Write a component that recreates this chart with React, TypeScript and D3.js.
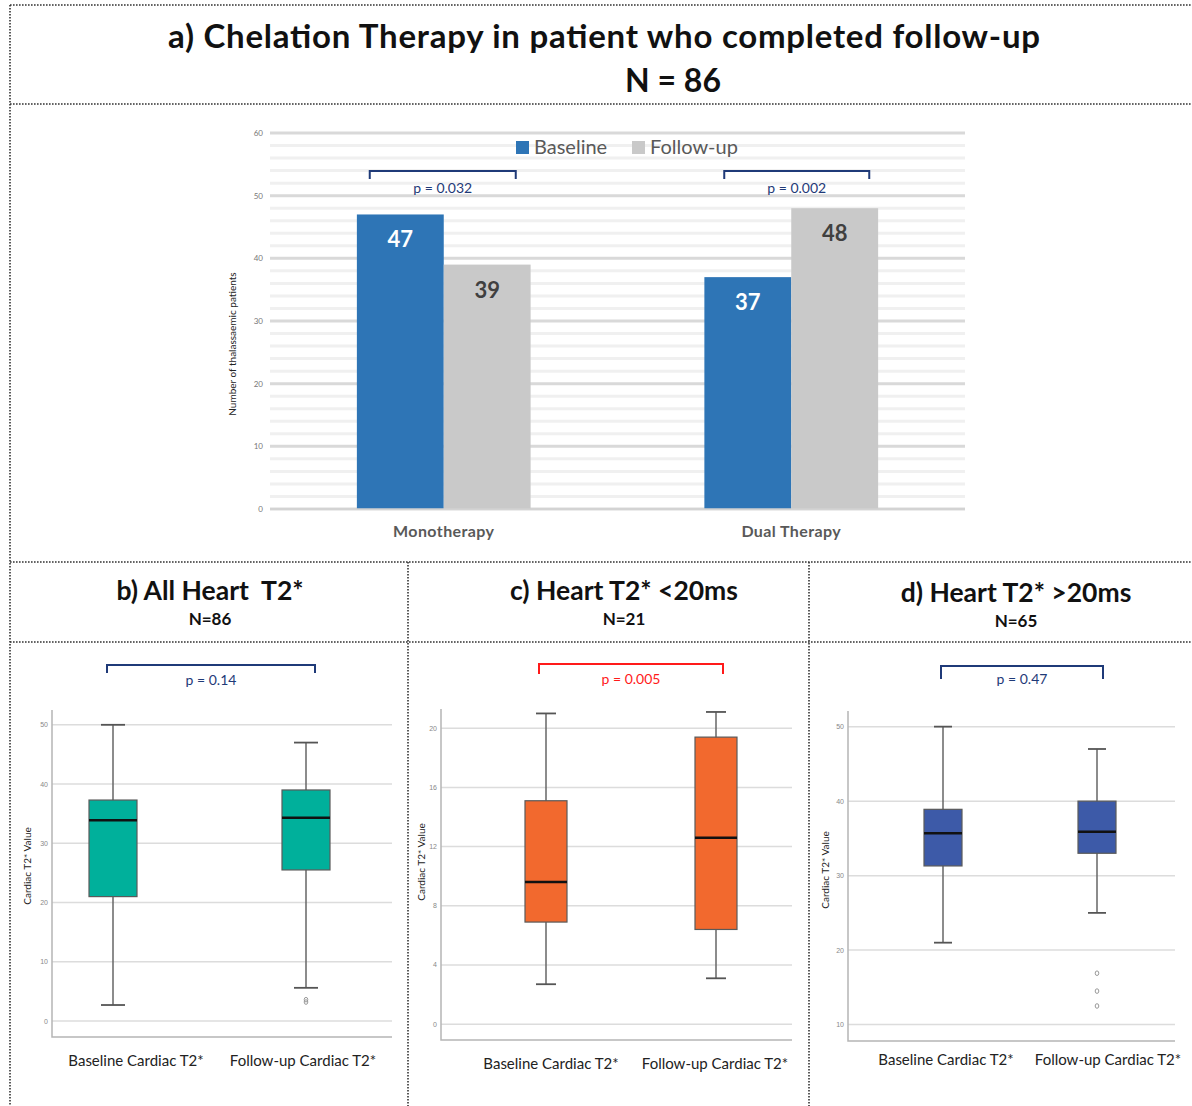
import React, { useEffect, useRef } from "react";
import * as d3 from "d3";

// ---- data ----
const mainTitle = "a) Chelation Therapy in patient who completed follow-up";
const mainN = "N = 86";

const categories = ["Monotherapy", "Dual Therapy"];
const seriesNames = ["Baseline", "Follow-up"];
const baselineCounts = [47, 37];
const followUpCounts = [39, 48];
const barPValues = ["p = 0.032", "p = 0.002"];
const barTicks = [0, 10, 20, 30, 40, 50, 60];
const barYLabel = "Number of thalassaemic patients";

const panelTitles = ["b) All Heart  T2*", "c) Heart T2* <20ms", "d) Heart T2* >20ms"];
const panelN = ["N=86", "N=21", "N=65"];
const panelPValues = ["p = 0.14", "p = 0.005", "p = 0.47"];
const boxGroups = ["Baseline Cardiac T2*", "Follow-up Cardiac T2*"];
const boxYLabel = "Cardiac T2* Value";

const allHeartStats = [
  { min: 2.7, q1: 21.0, median: 33.9, q3: 37.3, max: 50, outliers: [] as number[] },
  { min: 5.6, q1: 25.5, median: 34.3, q3: 39.0, max: 47, outliers: [3.2, 3.6] },
];
const lowHeartStats = [
  { min: 2.7, q1: 6.9, median: 9.6, q3: 15.1, max: 21.0, outliers: [] as number[] },
  { min: 3.1, q1: 6.4, median: 12.6, q3: 19.4, max: 21.1, outliers: [] as number[] },
];
const highHeartStats = [
  { min: 21.0, q1: 31.3, median: 35.7, q3: 38.9, max: 50, outliers: [] as number[] },
  { min: 25.0, q1: 33.0, median: 35.9, q3: 40.0, max: 47, outliers: [16.9, 14.5, 12.5] },
];
const panelStats = [allHeartStats, lowHeartStats, highHeartStats];
const panelTicks = [
  [0, 10, 20, 30, 40, 50],
  [0, 4, 8, 12, 16, 20],
  [10, 20, 30, 40, 50],
];
const panelDomains = [
  [-2.7, 52.5],
  [-1.07, 21.3],
  [7.8, 52.1],
];

// ---- layout ----
const W = 1192;
const H = 1106;
const FONT = "Lato, 'Open Sans', sans-serif";
const NAVY = "#1f3a78";
const boxColors = ["#00b09b", "#f2692e", "#3d5aa8"];
const barBracketOffsets = [
  [-74, 72],
  [-67, 78],
];

const panelLayout = [
  { cx: 210, titleY: 591, nY: 619, x0: 52, x1: 392, top: 710, bottom: 1037, centers: [113, 306], boxW: 48, capW: 24, bracket: [107, 315], brY: 665, brD: 8, pY: 680, labelX: [136, 303], labelY: 1061, ylX: 27, ylY: 866 },
  { cx: 624, titleY: 591, nY: 619, x0: 441, x1: 792, top: 709, bottom: 1040, centers: [546, 716], boxW: 42, capW: 20, bracket: [539, 723], brY: 664, brD: 10, pY: 679, labelX: [551, 715], labelY: 1064, ylX: 421, ylY: 862 },
  { cx: 1016, titleY: 593, nY: 621, x0: 848, x1: 1175, top: 711, bottom: 1041, centers: [943, 1097], boxW: 38, capW: 18, bracket: [941, 1103], brY: 666, brD: 13, pY: 679, labelX: [946, 1108], labelY: 1060, ylX: 825, ylY: 870 },
];

const App = () => {
  const ref = useRef<SVGSVGElement>(null);

  useEffect(() => {
    const svg = d3.select(ref.current);
    svg.selectAll("*").remove();

    // dotted frame
    const frame = svg.append("g").attr("stroke", "#333").attr("stroke-width", 1.6).attr("stroke-dasharray", "1.6,1.4").attr("fill", "none");
    const seg = (x1: number, y1: number, x2: number, y2: number) =>
      frame.append("line").attr("x1", x1).attr("y1", y1).attr("x2", x2).attr("y2", y2);
    seg(10, 5, W, 5);
    seg(10, 5, 10, H);
    seg(10, 104, W, 104);
    seg(10, 562, W, 562);
    seg(10, 642, W, 642);
    seg(408, 562, 408, H);
    seg(809, 562, 809, H);

    // main title
    svg.append("text").attr("x", 604).attr("y", 48).attr("text-anchor", "middle")
      .attr("font-family", FONT).attr("font-weight", 700).attr("font-size", 33).attr("fill", "#111")
      .attr("textLength", 872).attr("lengthAdjust", "spacing")
      .text(mainTitle);
    svg.append("text").attr("x", 673).attr("y", 92).attr("text-anchor", "middle")
      .attr("font-family", FONT).attr("font-weight", 700).attr("font-size", 32).attr("fill", "#111")
      .text(mainN);

    // ---- bar chart ----
    const y = d3.scaleLinear().domain([0, 60]).range([509, 133]);
    const x0 = d3.scaleBand().domain(categories).range([270, 965]);
    const step = x0.bandwidth();
    const x1 = d3.scaleBand().domain(seriesNames).range([step * 0.25, step * 0.75]);
    const bar = svg.append("g");

    // minor grid every 2
    bar.selectAll("line.minor").data(d3.range(0, 61, 2).filter((v) => v % 10 !== 0)).enter()
      .append("line").attr("x1", 270).attr("x2", 965)
      .attr("y1", (d) => y(d)).attr("y2", (d) => y(d))
      .attr("stroke", "#f0f0f0").attr("stroke-width", 3);
    bar.selectAll("line.major").data(barTicks).enter()
      .append("line").attr("x1", 270).attr("x2", 965)
      .attr("y1", (d) => y(d)).attr("y2", (d) => y(d))
      .attr("stroke", "#d9d9d9").attr("stroke-width", 3);
    bar.selectAll("text.tick").data(barTicks).enter()
      .append("text").attr("x", 263).attr("y", (d) => y(d) + 3).attr("text-anchor", "end")
      .attr("font-family", FONT).attr("font-size", 8).attr("fill", "#777")
      .text((d) => d);

    bar.append("text").attr("transform", `translate(236,344) rotate(-90)`).attr("text-anchor", "middle")
      .attr("font-family", FONT).attr("font-size", 10).attr("fill", "#222").text(barYLabel);

    const seriesData = [baselineCounts, followUpCounts];
    const barColors = ["#2e75b6", "#c9c9c9"];
    const labelColors = ["#ffffff", "#404040"];
    categories.forEach((cat, ci) => {
      seriesNames.forEach((s, si) => {
        const v = seriesData[si][ci];
        const bx = (x0(cat) as number) + (x1(s) as number);
        bar.append("rect").attr("x", bx).attr("y", y(v)).attr("width", x1.bandwidth()).attr("height", y(0) - y(v))
          .attr("fill", barColors[si]);
        bar.append("text").attr("x", bx + x1.bandwidth() / 2).attr("y", y(v) + 33).attr("text-anchor", "middle")
          .attr("font-family", FONT).attr("font-weight", 700).attr("font-size", 22).attr("fill", labelColors[si])
          .text(v);
      });
      const c = (x0(cat) as number) + step / 2;
      bar.append("text").attr("x", c).attr("y", 537).attr("text-anchor", "middle")
        .attr("font-family", FONT).attr("font-weight", 700).attr("font-size", 16).attr("fill", "#595959")
        .attr("letter-spacing", 0.4).text(cat);
      // significance bracket
      const bl = c + barBracketOffsets[ci][0];
      const br = c + barBracketOffsets[ci][1];
      bar.append("path").attr("d", `M${bl},179 V171 H${br} V179`).attr("fill", "none")
        .attr("stroke", NAVY).attr("stroke-width", 2);
      bar.append("text").attr("x", (bl + br) / 2).attr("y", 193).attr("text-anchor", "middle")
        .attr("font-family", FONT).attr("font-size", 14).attr("fill", NAVY).text(barPValues[ci]);
    });
    // baseline axis
    bar.append("line").attr("x1", 270).attr("x2", 965).attr("y1", y(0)).attr("y2", y(0))
      .attr("stroke", "#d0d0d0").attr("stroke-width", 1.5);

    // legend
    const legendX = [516, 632];
    seriesNames.forEach((s, i) => {
      bar.append("rect").attr("x", legendX[i]).attr("y", 141).attr("width", 13).attr("height", 13).attr("fill", barColors[i]);
      bar.append("text").attr("x", legendX[i] + 18).attr("y", 154)
        .attr("font-family", FONT).attr("font-size", 20).attr("fill", "#595959").text(s);
    });

    // ---- box plots ----
    panelLayout.forEach((L, pi) => {
      const g = svg.append("g");
      g.append("text").attr("x", L.cx).attr("y", L.titleY + 9).attr("text-anchor", "middle")
        .attr("font-family", FONT).attr("font-weight", 700).attr("font-size", 26.5).attr("fill", "#111")
        .style("white-space", "pre")
        .text(panelTitles[pi]);
      g.append("text").attr("x", L.cx).attr("y", L.nY + 6).attr("text-anchor", "middle")
        .attr("font-family", FONT).attr("font-weight", 700).attr("font-size", 17).attr("fill", "#111")
        .text(panelN[pi]);

      const ys = d3.scaleLinear().domain(panelDomains[pi]).range([L.bottom, L.top]);
      const xs = d3.scalePoint().domain(boxGroups).range(L.centers as [number, number]);

      g.selectAll("line.grid").data(panelTicks[pi]).enter()
        .append("line").attr("x1", L.x0).attr("x2", L.x1)
        .attr("y1", (d) => ys(d)).attr("y2", (d) => ys(d))
        .attr("stroke", "#dcdcdc").attr("stroke-width", 1.5);
      g.selectAll("text.tick").data(panelTicks[pi]).enter()
        .append("text").attr("x", L.x0 - 4).attr("y", (d) => ys(d) + 2.5).attr("text-anchor", "end")
        .attr("font-family", "'Liberation Sans Narrow', 'Liberation Sans', sans-serif").attr("font-size", 7).attr("fill", "#888")
        .text((d) => d);
      g.append("path").attr("d", `M${L.x0},${L.top} V${L.bottom} H${L.x1}`).attr("fill", "none")
        .attr("stroke", "#b5b5b5").attr("stroke-width", 1.5);

      g.append("text").attr("transform", `translate(${L.ylX + 4},${L.ylY}) rotate(-90)`).attr("text-anchor", "middle")
        .attr("font-family", FONT).attr("font-size", 10).attr("fill", "#222").text(boxYLabel);

      panelStats[pi].forEach((st, bi) => {
        const cx = xs(boxGroups[bi]) as number;
        g.append("line").attr("x1", cx).attr("x2", cx).attr("y1", ys(st.max)).attr("y2", ys(st.min))
          .attr("stroke", "#666").attr("stroke-width", 1.5);
        [st.max, st.min].forEach((v) =>
          g.append("line").attr("x1", cx - L.capW / 2).attr("x2", cx + L.capW / 2).attr("y1", ys(v)).attr("y2", ys(v))
            .attr("stroke", "#555").attr("stroke-width", 1.8)
        );
        g.append("rect").attr("x", cx - L.boxW / 2).attr("y", ys(st.q3)).attr("width", L.boxW)
          .attr("height", ys(st.q1) - ys(st.q3)).attr("fill", boxColors[pi])
          .attr("stroke", "#5a5a5a").attr("stroke-width", 1.2);
        g.append("line").attr("x1", cx - L.boxW / 2).attr("x2", cx + L.boxW / 2)
          .attr("y1", ys(st.median)).attr("y2", ys(st.median)).attr("stroke", "#111").attr("stroke-width", 2.5);
        st.outliers.forEach((o) =>
          g.append("ellipse").attr("cx", cx).attr("cy", ys(o)).attr("rx", 1.8).attr("ry", 2.3)
            .attr("fill", "none").attr("stroke", "#999").attr("stroke-width", 1)
        );
        g.append("text").attr("x", L.labelX[bi]).attr("y", L.labelY + 5).attr("text-anchor", "middle")
          .attr("font-family", FONT).attr("font-size", 15).attr("fill", "#222").text(boxGroups[bi]);
      });

      const bc = pi === 1 ? "#ff1a1a" : NAVY;
      g.append("path").attr("d", `M${L.bracket[0]},${L.brY + L.brD} V${L.brY} H${L.bracket[1]} V${L.brY + L.brD}`)
        .attr("fill", "none").attr("stroke", bc).attr("stroke-width", 2);
      g.append("text").attr("x", (L.bracket[0] + L.bracket[1]) / 2).attr("y", L.pY + 5).attr("text-anchor", "middle")
        .attr("font-family", FONT).attr("font-size", 14).attr("fill", bc).text(panelPValues[pi]);
    });
  }, []);

  return (
    <svg
      ref={ref}
      width={W}
      height={H}
      style={{ position: "absolute", left: 0, top: 0, background: "#fff", display: "block" }}
    />
  );
};

export default App;
